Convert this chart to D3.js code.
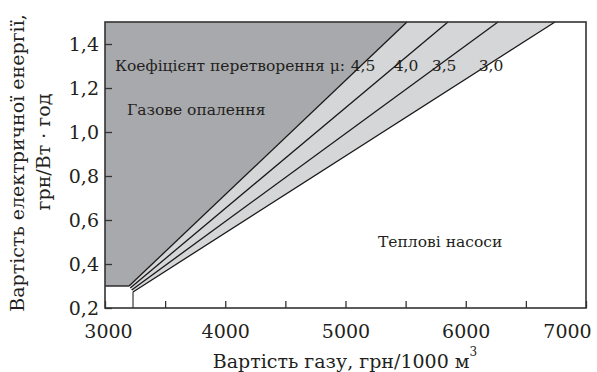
<!DOCTYPE html>
<html><head><meta charset="utf-8">
<script src="https://cdn.jsdelivr.net/npm/d3@7"></script>
<style>body{margin:0;background:#fff}svg{display:block}text{font-family:"DejaVu Serif",serif;fill:#231f20}</style>
</head><body>
<svg id="c" width="597" height="372"></svg>
<script>
// Data
const muLabels = ["4,5", "4,0", "3,5", "3,0"];
const lineStartX = [3200, 3210, 3222, 3233];
const lineStartY = [0.300, 0.291, 0.282, 0.273];
const lineEndX = [5511, 5852, 6268, 6742];
const lineEndY = [1.5, 1.5, 1.5, 1.5];
const muLabelX = [5146, 5503, 5820, 6210];
const xTicks = [3000, 4000, 5000, 6000, 7000];
const xMinor = [3500, 4500, 5500, 6500];
const yTicks = [0.2, 0.4, 0.6, 0.8, 1.0, 1.2, 1.4];
const gasFloorY = 0.3;
const gasFloorEndX = 3200;

const svg = d3.select("#c");
const x = d3.scaleLinear().domain([3000, 7000]).range([105, 586]);
const y = d3.scaleLinear().domain([0.2, 1.5]).range([308, 22]);
const fmt = v => d3.format(".1f")(v).replace(".", ",");

// dark gas region
const dark = [[3000, 1.5], [3000, gasFloorY], [gasFloorEndX, gasFloorY], [lineStartX[0], lineStartY[0]], [lineEndX[0], lineEndY[0]]];
svg.append("path").attr("d", d3.line().x(d => x(d[0])).y(d => y(d[1]))(dark) + "Z")
  .attr("fill", "#a8a9ac");
// light band
const n = muLabels.length - 1;
const light = [[lineStartX[0], lineStartY[0]], [lineEndX[0], lineEndY[0]], [lineEndX[n], lineEndY[n]], [lineStartX[n], lineStartY[n]]];
svg.append("path").attr("d", d3.line().x(d => x(d[0])).y(d => y(d[1]))(light) + "Z")
  .attr("fill", "#d5d6d8");

// lines
muLabels.forEach((m, i) => {
  svg.append("line").attr("x1", x(lineStartX[i])).attr("y1", y(lineStartY[i]))
    .attr("x2", x(lineEndX[i])).attr("y2", y(lineEndY[i]))
    .attr("stroke", "#1a1718").attr("stroke-width", 1.3);
});
// gas floor line and vertical
svg.append("line").attr("x1", x(3000)).attr("y1", y(gasFloorY)).attr("x2", x(gasFloorEndX)).attr("y2", y(gasFloorY))
  .attr("stroke", "#231f20").attr("stroke-width", 1.4);
svg.append("line").attr("x1", x(lineStartX[n])).attr("y1", y(lineStartY[n])).attr("x2", x(lineStartX[n])).attr("y2", y(0.2))
  .attr("stroke", "#555").attr("stroke-width", 1.4);

// axes
const xAx = svg.append("g").attr("transform", `translate(0,${y(0.2)})`)
  .call(d3.axisBottom(x).tickValues(xTicks).tickSize(-7).tickPadding(17).tickFormat(d3.format("d")));
const xAxMinor = svg.append("g").attr("transform", `translate(0,${y(0.2)})`)
  .call(d3.axisBottom(x).tickValues(xMinor).tickSize(-7).tickFormat(""));
const yAx = svg.append("g").attr("transform", `translate(${x(3000)},0)`)
  .call(d3.axisLeft(y).tickValues(yTicks).tickSize(-7).tickPadding(6).tickFormat(fmt));
[xAx, xAxMinor, yAx].forEach(g => {
  g.select(".domain").remove();
  g.selectAll(".tick line").attr("stroke", "#333").attr("stroke-width", 1.3);
  g.selectAll("text").attr("font-size", 19).attr("font-family", "DejaVu Serif").attr("fill", "#231f20");
});
xAx.selectAll("text").attr("dy", "0.71em")
  .attr("dx", d => d === 3000 ? 3 : d === 7000 ? -19 : 0);

// frame
svg.append("rect").attr("x", x(3000)).attr("y", y(1.5)).attr("width", x(7000) - x(3000)).attr("height", y(0.2) - y(1.5))
  .attr("fill", "none").attr("stroke", "#333").attr("stroke-width", 1.6);

// annotations
svg.append("text").attr("x", 115).attr("y", y(1.3)).attr("dy", "0.35em").attr("font-size", 15.5)
  .text("Коефіцієнт перетворення μ:");
muLabels.forEach((m, i) => {
  svg.append("text").attr("x", x(muLabelX[i])).attr("y", y(1.3)).attr("dy", "0.35em")
    .attr("text-anchor", "middle").attr("font-size", 15.5).text(m);
});
svg.append("text").attr("x", 127).attr("y", y(1.1)).attr("dy", "0.35em").attr("font-size", 15.5).text("Газове опалення");
svg.append("text").attr("x", 378).attr("y", y(0.5)).attr("dy", "0.35em").attr("font-size", 15.5).text("Теплові насоси");

// axis titles
const xt = svg.append("text").attr("x", 345).attr("y", 368).attr("text-anchor", "middle").attr("font-size", 19);
xt.append("tspan").text("Вартість газу, грн/1000 м");
xt.append("tspan").attr("dy", -12).attr("font-size", 12).text("3");
svg.append("text").attr("transform", "translate(24,163) rotate(-90)").attr("text-anchor", "middle").attr("font-size", 19)
  .text("Вартість електричної енергії,");
svg.append("text").attr("transform", "translate(50,152) rotate(-90)").attr("text-anchor", "middle").attr("font-size", 19)
  .text("грн/Вт · год");
</script>
</body></html>
